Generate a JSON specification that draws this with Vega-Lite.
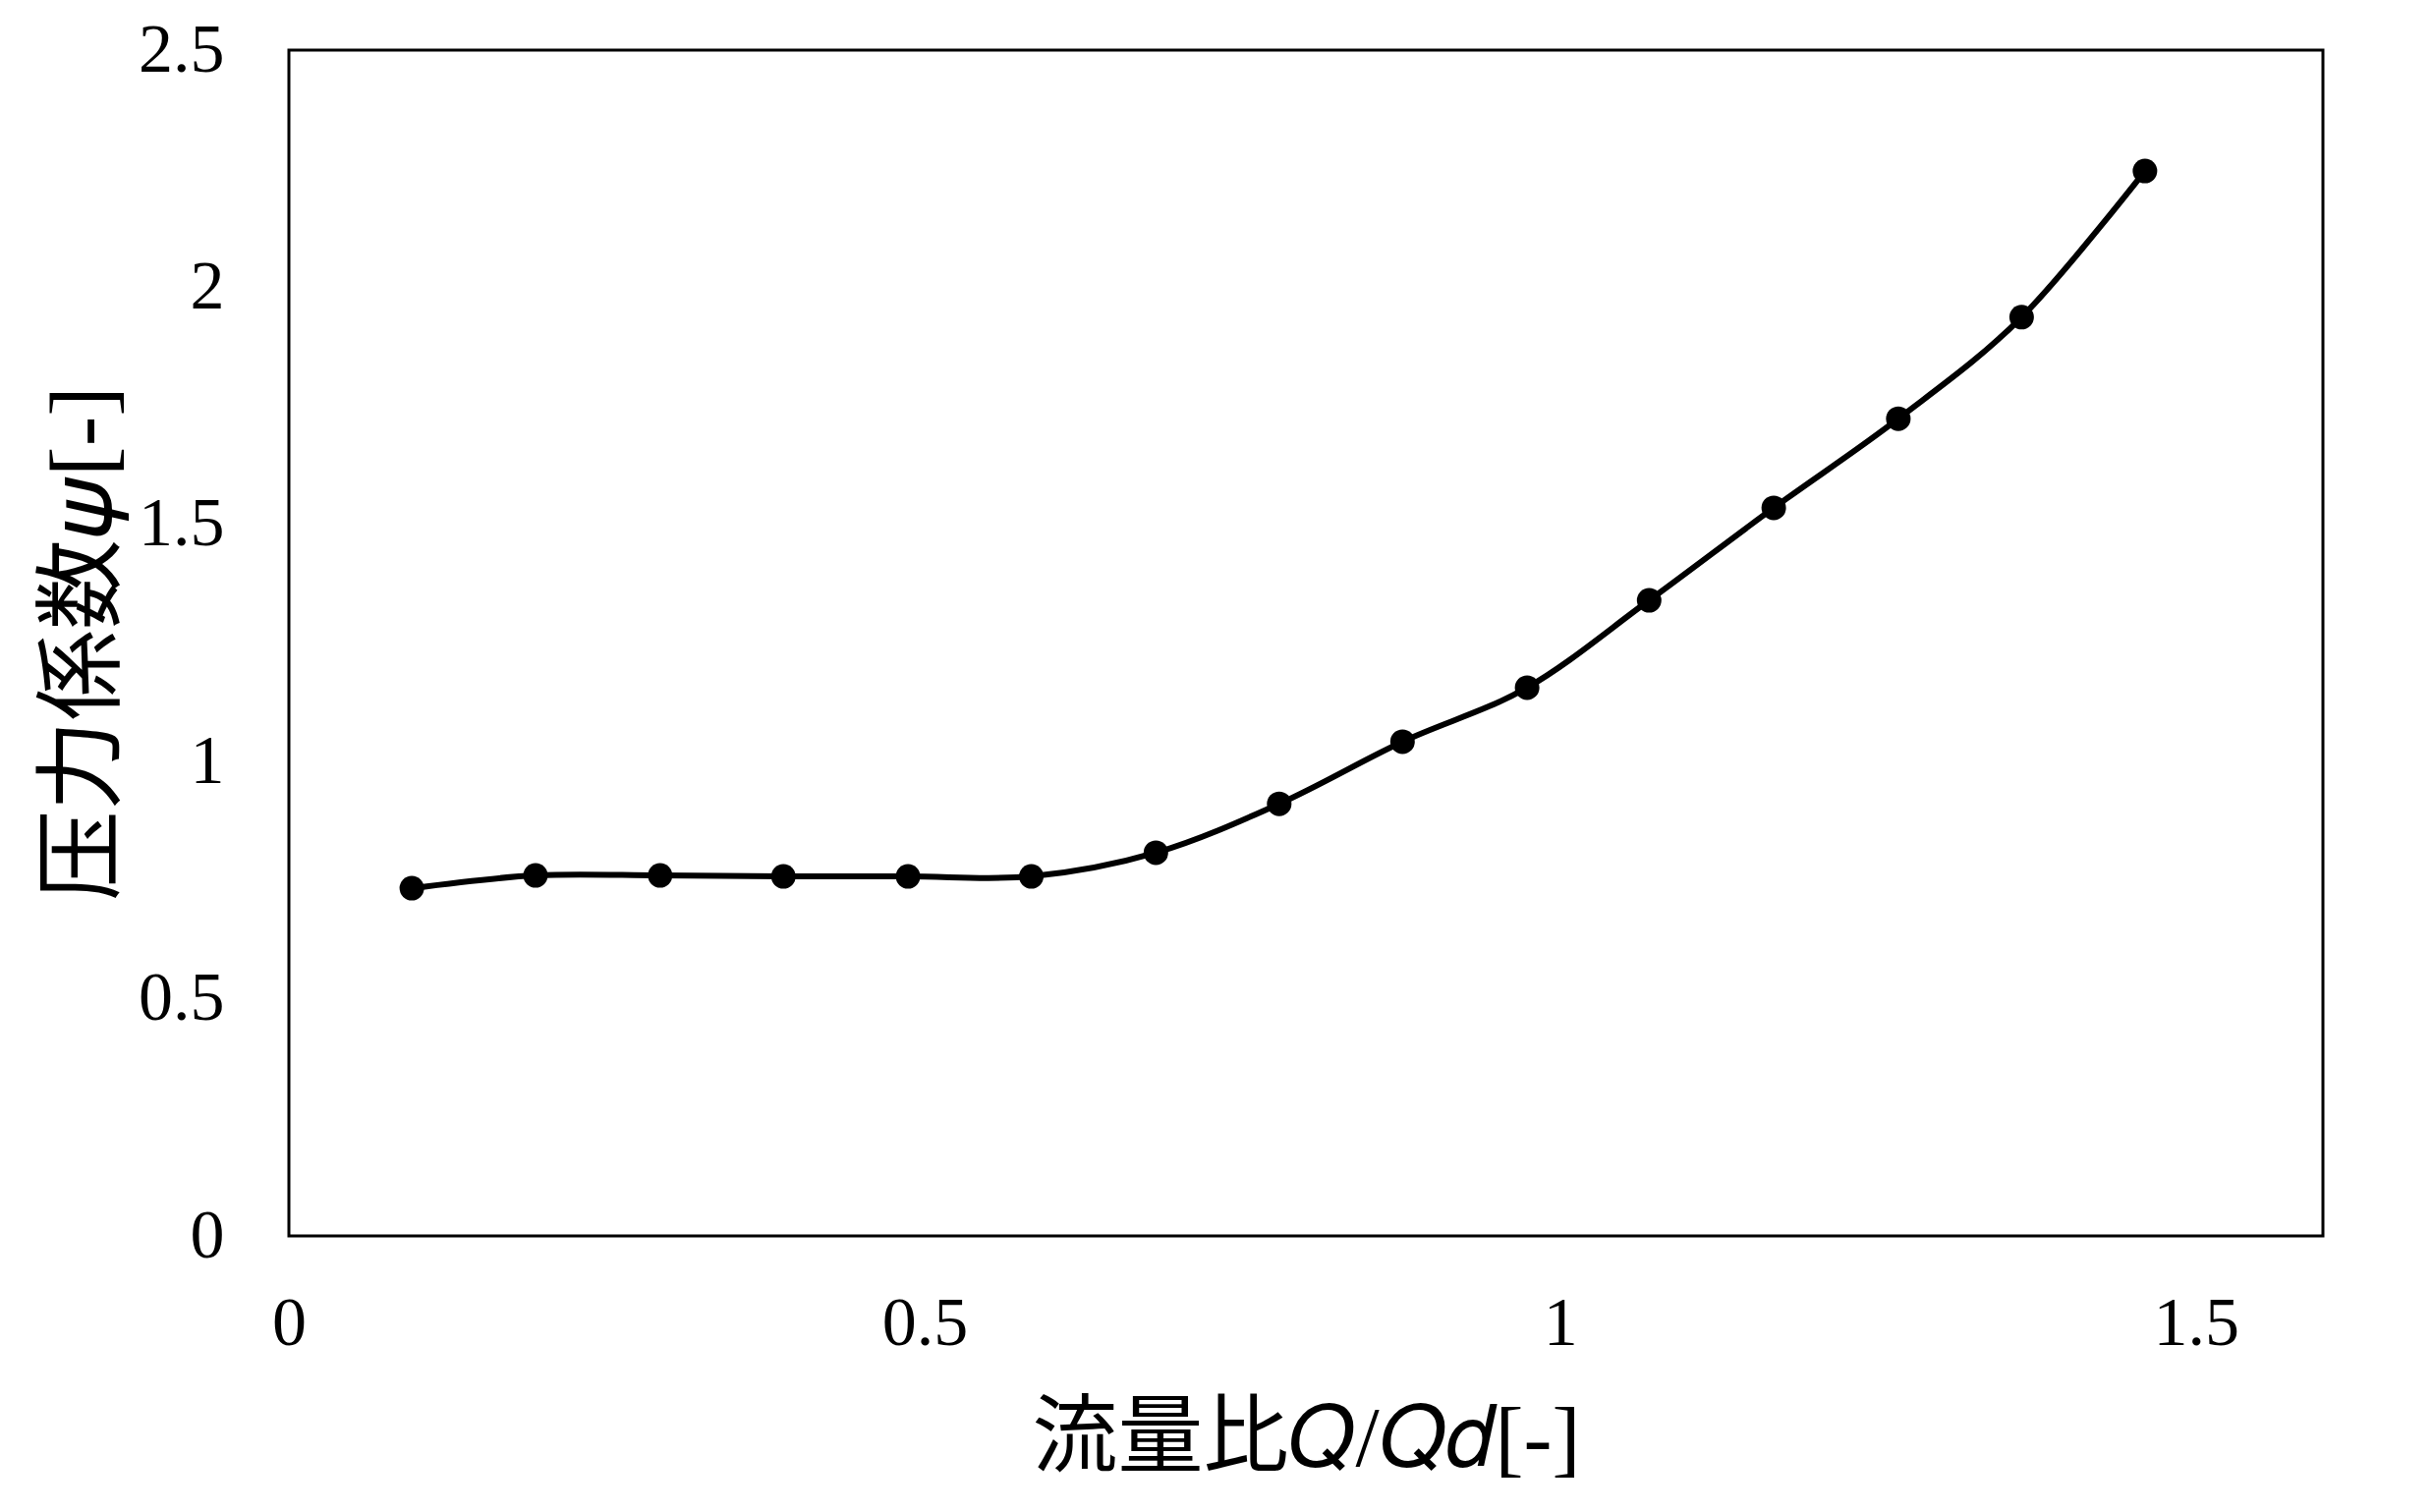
{
  "$schema": "https://vega.github.io/schema/vega-lite/v6.json",
  "autosize": {"type": "none"},
  "width": 2070,
  "height": 1207,
  "padding": {"left": 294, "top": 51, "right": 111, "bottom": 281},
  "background": "white",
  "config": {
    "view": {"stroke": "black", "strokeWidth": 3},
    "axis": {
      "grid": false,
      "ticks": false,
      "domain": false,
      "format": "~g",
      "labelFont": "Liberation Serif",
      "labelFontSize": 70,
      "labelColor": "black",
      "titleFont": "Liberation Serif, Noto Sans CJK JP",
      "titleFontWeight": "normal",
      "titleColor": "black"
    }
  },
  "data": {
    "values": [
      {"q": 0.0967, "psi": 0.733},
      {"q": 0.194, "psi": 0.760},
      {"q": 0.292, "psi": 0.760},
      {"q": 0.389, "psi": 0.758},
      {"q": 0.487, "psi": 0.758},
      {"q": 0.584, "psi": 0.758},
      {"q": 0.682, "psi": 0.808},
      {"q": 0.779, "psi": 0.911},
      {"q": 0.876, "psi": 1.042},
      {"q": 0.974, "psi": 1.156},
      {"q": 1.070, "psi": 1.340},
      {"q": 1.168, "psi": 1.535},
      {"q": 1.266, "psi": 1.723},
      {"q": 1.363, "psi": 1.937},
      {"q": 1.460, "psi": 2.245}
    ]
  },
  "encoding": {
    "x": {
      "field": "q",
      "type": "quantitative",
      "scale": {"domain": [0, 1.6], "nice": false, "zero": false},
      "axis": {
        "title": "流量比𝑄/𝑄𝑑[-]",
        "titleFontSize": 87,
        "values": [0, 0.5, 1, 1.5],
        "labelPadding": 55,
        "titlePadding": 40,
        "labelFlush": false,
        "labelOverlap": false
      }
    },
    "y": {
      "field": "psi",
      "type": "quantitative",
      "scale": {"domain": [0, 2.5], "nice": false},
      "axis": {
        "title": "压力係数𝜓[-]",
        "titleFontSize": 92,
        "values": [0, 0.5, 1, 1.5, 2, 2.5],
        "labelPadding": 66,
        "titlePadding": 8,
        "labelFlush": false,
        "labelOverlap": false
      }
    }
  },
  "layer": [
    {
      "mark": {"type": "line", "interpolate": "cardinal", "color": "black", "strokeWidth": 6}
    },
    {
      "mark": {"type": "point", "shape": "circle", "filled": true, "color": "black", "opacity": 1, "size": 625}
    }
  ]
}
